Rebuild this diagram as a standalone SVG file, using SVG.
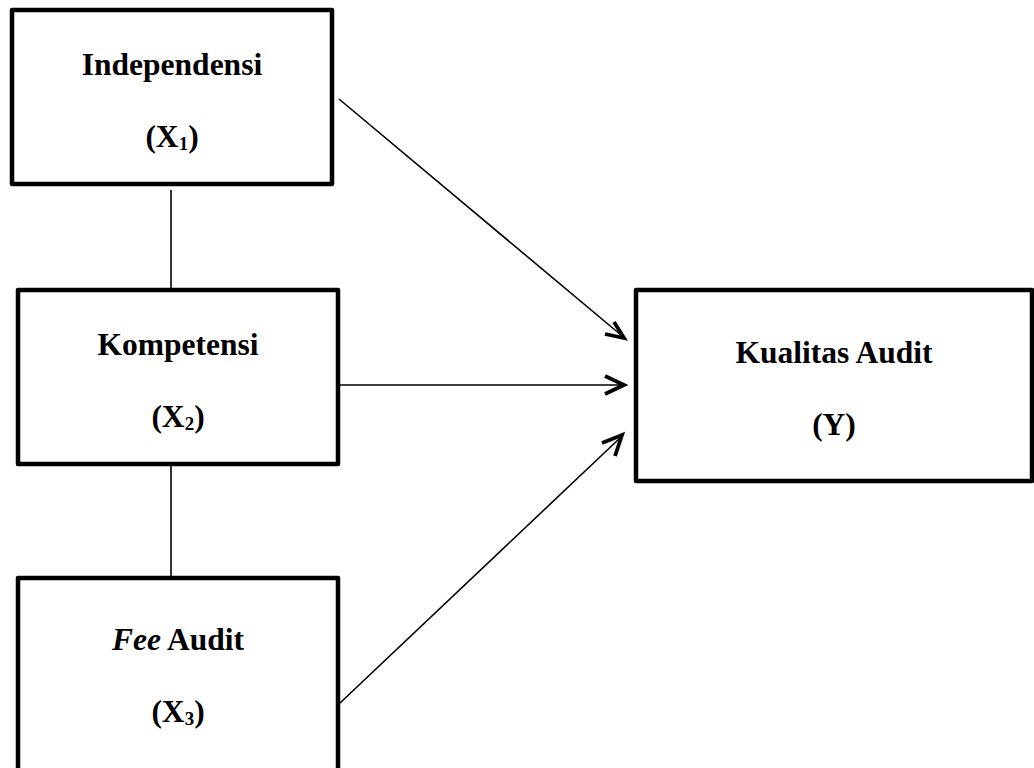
<svg xmlns="http://www.w3.org/2000/svg" width="1034" height="768" viewBox="0 0 1034 768">
<style>
.box{fill:#fff;stroke:#000;stroke-width:4.5;stroke-linejoin:round}
.t{font-family:"Liberation Serif","Times New Roman",serif;font-weight:bold;font-size:31.5px;fill:#000;text-anchor:middle}
.sub{font-size:19px}
.ln{stroke:#000;stroke-width:1.6;fill:none}
.ah{stroke:#000;stroke-width:3.8;fill:none;stroke-linecap:butt;stroke-linejoin:miter}
</style>
<rect width="1034" height="768" fill="#fff"/>
<g id="connectors">
<line class="ln" x1="171" y1="190" x2="171" y2="288"/>
<line class="ln" x1="171" y1="463" x2="171" y2="578"/>
<line class="ln" x1="339" y1="99" x2="621" y2="335"/>
<path class="ah" d="M614,322 L624,338 L605,334"/>
<line class="ln" x1="340" y1="385" x2="622" y2="385"/>
<path class="ah" d="M605,376 L624,385 L605,394"/>
<line class="ln" x1="340" y1="703" x2="620" y2="438"/>
<path class="ah" d="M602,443 L622,435 L615,456"/>
</g>
<g id="x1">
<rect class="box" x="12" y="10" width="320" height="174"/>
<text class="t" x="172" y="75">Independensi</text>
<text class="t" x="172" y="147">(X<tspan class="sub" dy="3">1</tspan><tspan dy="-3">)</tspan></text>
</g>
<g id="x2">
<rect class="box" x="18" y="290" width="320" height="174"/>
<text class="t" x="178" y="355">Kompetensi</text>
<text class="t" x="178" y="427">(X<tspan class="sub" dy="3">2</tspan><tspan dy="-3">)</tspan></text>
</g>
<g id="x3">
<rect class="box" x="18" y="578" width="320" height="200"/>
<text class="t" x="178" y="650"><tspan font-style="italic">Fee</tspan> Audit</text>
<text class="t" x="178" y="722">(X<tspan class="sub" dy="3">3</tspan><tspan dy="-3">)</tspan></text>
</g>
<g id="y">
<rect class="box" x="636" y="290" width="396" height="191"/>
<text class="t" x="834" y="363">Kualitas Audit</text>
<text class="t" x="834" y="435">(Y)</text>
</g>
</svg>
